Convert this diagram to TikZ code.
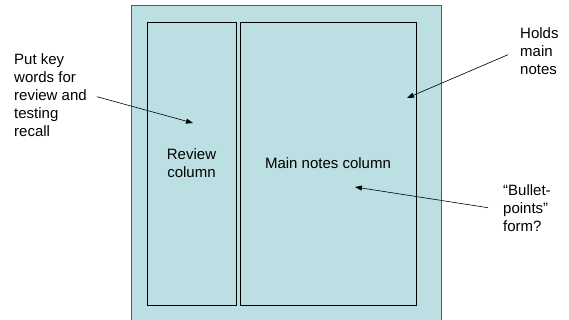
\documentclass[tikz,border=0pt]{standalone}
\usepackage{fontspec}
\setmainfont{Liberation Sans}
\usetikzlibrary{arrows.meta, positioning}
\definecolor{pagecyan}{HTML}{BBDFE2}
\definecolor{pageedge}{HTML}{4F5F60}
\tikzset{
  colbox/.style={draw=black, line width=0.8pt, fill=pagecyan, align=center, inner sep=0pt,
    minimum height=283pt, font=\fontsize{15}{18}\selectfont},
  notetext/.style={align=left, inner sep=4pt, font=\fontsize{15}{18}\selectfont},
  pointer/.style={-{Triangle[length=7pt, width=5pt]}, line width=0.6pt}
}
\begin{document}
\begin{tikzpicture}[x=1pt, y=-1pt]
  \useasboundingbox (0,0) rectangle (569,320);
  \clip (0,0) rectangle (569,320);

  % the page
  \node[draw=pageedge, line width=1pt, fill=pagecyan, minimum width=310pt, minimum height=330pt,
    inner sep=0pt] (page) at (286,171) {};

  % the two columns
  \node[colbox, minimum width=89pt] (review) at (191.5,163.5) {Review\\column};
  \node[colbox, minimum width=176pt] (main) at (328,163.5) {Main notes column};

  % side notes
  \node[notetext, anchor=north west] (keywords) at (10,49) {Put key\\words for\\review and\\testing\\recall};
  \node[notetext, anchor=north west] (holds) at (516,23) {Holds\\main\\notes};
  \node[notetext, anchor=north west] (bullets) at (499,180) {``Bullet-\\points''\\form?};

  \coordinate (reviewtip) at (193,123);
  \coordinate (maintip) at (407,98);
  \coordinate (bullettip) at (355,187);

  \draw[pointer] ([xshift=6pt, yshift=-2pt]keywords.east) -- (reviewtip);
  \draw[pointer] ([xshift=-8pt, yshift=-4pt]holds.west) -- (maintip);
  \draw[pointer] ([xshift=-11pt]bullets.west) -- (bullettip);
\end{tikzpicture}
\end{document}
